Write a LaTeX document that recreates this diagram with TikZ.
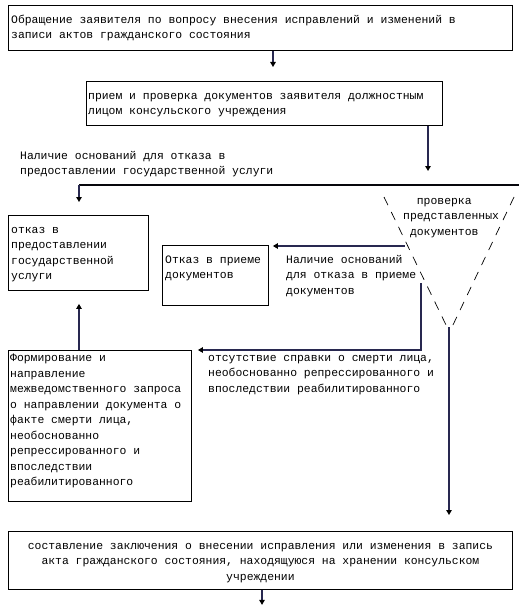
\documentclass[tikz,border=0pt]{standalone}
\usepackage{fontspec}
\usepackage{tikz}
\usetikzlibrary{arrows.meta}
\newfontfamily\kurier{Liberation Mono}
\definecolor{liniya}{RGB}{40,40,80}
\newcommand{\shrift}{\kurier\fontsize{11.4}{15.5}\selectfont}

\tikzset{
  ramka/.style={draw=black, line width=0.9pt, anchor=north west, inner sep=0pt},
  nadpis/.style={anchor=north west, align=left, inner xsep=3pt, inner ysep=7pt, font=\shrift},
  svyaz/.style={draw=liniya, line width=1.2pt, -{Butt Cap[sep=4pt] Triangle[length=5pt,width=5.5pt,color=black]}},
  shtrih/.style={line width=0.7pt, dash pattern=on 9pt off 7.6pt}
}

\begin{document}
\begin{tikzpicture}[x=1pt, y=-1pt]
\useasboundingbox (0,0) rectangle (519,610);

% boxes
\node[ramka, minimum width=504pt, minimum height=45pt] (zayav) at (8,5) {};
\node[nadpis] at (zayav.north west) {\strut Обращение заявителя по вопросу внесения исправлений и изменений в\\записи актов гражданского состояния};

\node[ramka, minimum width=356pt, minimum height=44pt] (priem) at (86,81) {};
\node[nadpis, inner xsep=2pt] at (priem.north west) {\strut прием и проверка документов заявителя должностным\\лицом консульского учреждения};

\node[ramka, minimum width=140pt, minimum height=75pt] (otkaz) at (8,215) {};
\node[nadpis] at (otkaz.north west) {\strut отказ в\\предоставлении\\государственной\\услуги};

\node[ramka, minimum width=106pt, minimum height=60pt] (otkpriem) at (162,245) {};
\node[nadpis] at (otkpriem.north west) {\strut Отказ в приеме\\документов};

\node[ramka, minimum width=183pt, minimum height=151pt] (formir) at (8,350) {};
\node[nadpis, inner xsep=2pt, inner ysep=0.5pt] at (formir.north west) {\strut Формирование и\\направление\\межведомственного запроса\\о направлении документа о\\факте смерти лица,\\необоснованно\\репрессированного и\\впоследствии\\реабилитированного};

\node[ramka, minimum width=504pt, minimum height=58pt] (sost) at (8,531) {};
\node[nadpis, anchor=north, align=center] at (sost.north) {\strut составление заключения о внесении исправления или изменения в запись\\акта гражданского состояния, находящуюся на хранении консульском\\учреждении};

% labels
\node[nadpis] (osn1) at (17,141) {\strut Наличие оснований для отказа в\\предоставлении государственной услуги};
\node[nadpis] (osn2) at (283,245) {\strut Наличие оснований\\для отказа в приеме\\документов};
\node[nadpis] (otsut) at (205,343) {\strut отсутствие справки о смерти лица,\\необоснованно репрессированного и\\впоследствии реабилитированного};
\node[nadpis] (proverka) at (400,186) {\strut\hspace*{13.7pt}проверка\\представленных\\\hspace*{6.85pt}документов};

% check
\coordinate (vl) at (384,197);
\coordinate (vr) at (514,197);
\draw[shtrih] (vl) -- (447,327);
\draw[shtrih] (vr) -- (452,327);

% connectors
\draw[svyaz] (zayav.south -| 273,0) -- ([yshift=14pt]priem.north -| 273,0);
\draw[svyaz] (priem.south -| 428,0) -- (428,171);
\draw[draw=black!85!liniya, line width=1.2pt] (519,185) -- (79,185);
\draw[svyaz] (79,185) -- ([yshift=13pt]otkaz.north -| 79,0);
\draw[svyaz] (405,246) -- ([xshift=4pt]otkpriem.north east |- 0,246);
\draw[svyaz] (421,283) -- (421,350) -- ([xshift=6pt]formir.north east);
\draw[svyaz] (formir.north -| 79,0) -- ([yshift=-13pt]otkaz.south -| 79,0);
\draw[svyaz] (449,327) -- ([yshift=16pt]sost.north -| 449,0);
\draw[svyaz] (sost.south -| 262,0) -- ++(0,15);

\end{tikzpicture}
\end{document}
